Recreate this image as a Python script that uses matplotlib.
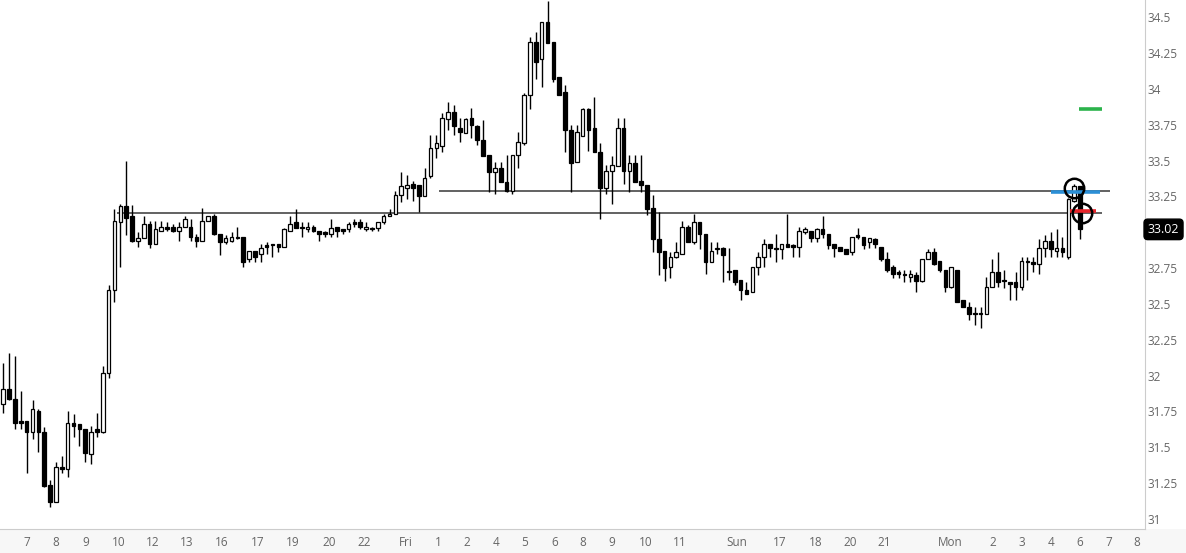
import matplotlib.pyplot as plt
from matplotlib.patches import Rectangle

# candle data
opens = [31.80, 31.91, 31.84, 31.68, 31.68, 31.61, 31.75, 31.61, 31.24, 31.12,
         31.36, 31.35, 31.67, 31.66, 31.63, 31.45, 31.63, 31.61, 32.02, 32.60,
         33.07, 33.18, 33.11, 32.94, 32.96, 33.06, 32.92, 33.01, 33.04, 33.04,
         33.01, 33.04, 33.04, 32.97, 32.94, 33.08, 33.11, 32.99, 32.93, 32.94,
         32.97, 32.97, 32.81, 32.87, 32.85, 32.91, 32.92, 32.92, 32.90, 33.01,
         33.07, 33.04, 33.02, 33.04, 33.01, 33.00, 32.99, 33.04, 33.02, 33.02,
         33.07, 33.07, 33.02, 33.03, 33.03, 33.07, 33.11, 33.13, 33.26, 33.31,
         33.34, 33.33, 33.25, 33.39, 33.59, 33.60, 33.79, 33.84, 33.73, 33.69,
         33.80, 33.74, 33.64, 33.54, 33.42, 33.45, 33.35, 33.29, 33.54, 33.62,
         33.96, 34.33, 34.21, 34.47, 34.33, 34.08, 33.98, 33.71, 33.49, 33.67,
         33.86, 33.73, 33.56, 33.31, 33.43, 33.46, 33.73, 33.43, 33.48, 33.36,
         33.33, 33.17, 32.95, 32.87, 32.76, 32.83, 32.85, 33.04, 32.93, 33.07,
         32.99, 32.79, 32.88, 32.89, 32.73, 32.74, 32.67, 32.60, 32.58, 32.76,
         32.83, 32.92, 32.89, 32.88, 32.92, 32.91, 32.90, 33.00, 33.01, 32.96,
         33.02, 32.99, 32.92, 32.90, 32.88, 32.86, 32.98, 32.97, 32.93, 32.95,
         32.90, 32.81, 32.76, 32.72, 32.71, 32.69, 32.70, 32.66, 32.81, 32.86,
         32.80, 32.74, 32.62, 32.74, 32.53, 32.48, 32.44, 32.44, 32.43, 32.62,
         32.72, 32.67, 32.65, 32.65, 32.62, 32.80, 32.79, 32.78, 32.89, 32.94,
         32.87, 32.89, 32.83, 33.22, 33.32]
highs = [32.09, 32.16, 32.14, 31.89, 31.68, 31.83, 31.77, 31.64, 31.27, 31.40,
         31.44, 31.75, 31.73, 31.66, 31.63, 31.65, 31.74, 32.07, 32.63, 33.16,
         33.20, 33.50, 33.19, 33.00, 33.11, 33.08, 33.08, 33.08, 33.07, 33.06,
         33.07, 33.11, 33.09, 32.99, 33.17, 33.11, 33.13, 32.99, 32.98, 33.00,
         33.04, 32.97, 32.87, 32.87, 32.92, 32.93, 32.92, 32.92, 33.03, 33.11,
         33.16, 33.07, 33.07, 33.05, 33.01, 33.01, 33.09, 33.04, 33.02, 33.07,
         33.09, 33.09, 33.07, 33.04, 33.07, 33.13, 33.16, 33.29, 33.42, 33.40,
         33.36, 33.33, 33.45, 33.68, 33.68, 33.83, 33.91, 33.89, 33.80, 33.80,
         33.87, 33.75, 33.78, 33.54, 33.49, 33.49, 33.54, 33.54, 33.70, 33.97,
         34.36, 34.40, 34.47, 34.61, 34.33, 34.08, 34.03, 33.75, 33.75, 33.87,
         33.87, 33.94, 33.62, 33.47, 33.53, 33.80, 33.80, 33.54, 33.54, 33.54,
         33.33, 33.26, 33.14, 32.87, 32.86, 32.93, 33.08, 33.05, 33.13, 33.07,
         32.99, 32.93, 32.93, 32.90, 32.89, 32.74, 32.67, 32.65, 32.76, 32.86,
         32.95, 32.92, 32.99, 32.92, 33.13, 32.92, 33.04, 33.04, 33.01, 33.03,
         33.11, 32.99, 32.92, 32.90, 32.88, 32.97, 33.03, 32.97, 32.96, 32.96,
         32.90, 32.86, 32.77, 32.74, 32.74, 32.74, 32.72, 32.81, 32.88, 32.89,
         32.80, 32.74, 32.76, 32.74, 32.53, 32.51, 32.48, 32.48, 32.69, 32.81,
         32.86, 32.74, 32.65, 32.72, 32.83, 32.83, 32.83, 32.95, 32.98, 33.00,
         33.02, 32.97, 33.24, 33.34, 33.32]
lows = [31.74, 31.83, 31.63, 31.63, 31.32, 31.56, 31.47, 31.22, 31.08, 31.12,
        31.32, 31.29, 31.57, 31.51, 31.40, 31.38, 31.57, 31.60, 31.98, 32.51,
        32.76, 32.98, 32.93, 32.90, 32.96, 32.89, 32.92, 33.01, 33.01, 33.00,
        32.94, 33.04, 32.94, 32.90, 32.94, 33.08, 32.98, 32.84, 32.92, 32.93,
        32.95, 32.76, 32.79, 32.79, 32.79, 32.85, 32.83, 32.86, 32.90, 33.01,
        33.03, 32.97, 33.00, 33.00, 32.94, 32.97, 32.97, 32.97, 32.99, 33.00,
        33.04, 33.02, 33.01, 33.01, 33.01, 33.06, 33.11, 33.13, 33.21, 33.23,
        33.22, 33.14, 33.25, 33.38, 33.52, 33.56, 33.71, 33.68, 33.63, 33.69,
        33.66, 33.61, 33.53, 33.28, 33.27, 33.35, 33.28, 33.27, 33.45, 33.61,
        33.86, 34.07, 34.01, 34.32, 34.05, 33.96, 33.56, 33.28, 33.49, 33.67,
        33.57, 33.56, 33.09, 33.27, 33.20, 33.46, 33.34, 33.28, 33.35, 33.28,
        33.12, 32.86, 32.70, 32.66, 32.68, 32.82, 32.85, 32.93, 32.92, 32.88,
        32.71, 32.79, 32.85, 32.65, 32.67, 32.63, 32.53, 32.57, 32.58, 32.70,
        32.76, 32.83, 32.79, 32.81, 32.90, 32.83, 32.83, 32.99, 32.93, 32.93,
        32.96, 32.88, 32.83, 32.87, 32.85, 32.84, 32.95, 32.88, 32.89, 32.89,
        32.80, 32.72, 32.68, 32.68, 32.65, 32.65, 32.58, 32.65, 32.81, 32.77,
        32.72, 32.58, 32.61, 32.51, 32.48, 32.39, 32.35, 32.33, 32.43, 32.62,
        32.62, 32.61, 32.53, 32.53, 32.60, 32.67, 32.72, 32.71, 32.83, 32.83,
        32.83, 32.83, 32.81, 33.21, 32.95]
closes = [31.91, 31.84, 31.67, 31.67, 31.61, 31.77, 31.61, 31.23, 31.12, 31.36,
          31.35, 31.67, 31.65, 31.63, 31.46, 31.61, 31.61, 32.02, 32.60, 33.08,
          33.18, 33.10, 32.94, 32.96, 33.06, 32.92, 33.02, 33.04, 33.02, 33.01,
          33.04, 33.09, 32.97, 32.94, 33.08, 33.11, 32.99, 32.93, 32.96, 32.97,
          32.96, 32.79, 32.87, 32.83, 32.89, 32.90, 32.91, 32.90, 33.02, 33.06,
          33.03, 33.03, 33.04, 33.01, 32.99, 32.99, 33.03, 33.01, 33.01, 33.06,
          33.06, 33.04, 33.04, 33.02, 33.07, 33.11, 33.13, 33.26, 33.32, 33.33,
          33.31, 33.25, 33.38, 33.59, 33.62, 33.80, 33.84, 33.74, 33.70, 33.79,
          33.75, 33.64, 33.53, 33.42, 33.45, 33.35, 33.29, 33.54, 33.63, 33.96,
          34.33, 34.19, 34.47, 34.32, 34.07, 33.96, 33.71, 33.48, 33.70, 33.86,
          33.71, 33.56, 33.31, 33.43, 33.47, 33.73, 33.43, 33.48, 33.35, 33.33,
          33.16, 32.95, 32.86, 32.75, 32.83, 32.86, 33.04, 32.93, 33.07, 32.99,
          32.79, 32.87, 32.89, 32.84, 32.72, 32.65, 32.60, 32.57, 32.76, 32.83,
          32.92, 32.89, 32.88, 32.92, 32.90, 32.90, 33.01, 33.02, 32.96, 33.02,
          32.99, 32.91, 32.89, 32.87, 32.85, 32.97, 32.97, 32.91, 32.96, 32.92,
          32.81, 32.74, 32.71, 32.71, 32.70, 32.71, 32.66, 32.81, 32.86, 32.78,
          32.74, 32.62, 32.76, 32.51, 32.48, 32.43, 32.43, 32.43, 32.62, 32.72,
          32.65, 32.66, 32.64, 32.62, 32.80, 32.79, 32.78, 32.89, 32.94, 32.88,
          32.89, 32.86, 33.23, 33.32, 33.02]

# time axis labels (position in candle units)
tick_pos = [4.1, 9.0, 14.1, 19.7, 25.6, 31.4, 37.4, 43.5, 49.5, 55.7, 61.6,
            68.8, 74.3, 79.2, 84.2, 89.1, 94.3, 99.1, 104.0, 109.7, 115.6,
            125.4, 132.6, 138.9, 144.7, 150.5, 161.9, 169.1, 174.1, 179.0,
            184.0, 188.9, 193.7]
tick_lab = ['7', '8', '9', '10', '12', '13', '16', '17', '19', '20', '22',
            'Fri', '1', '2', '4', '5', '6', '8', '9', '10', '11',
            'Sun', '17', '18', '20', '21', 'Mon', '2', '3', '4', '6', '7', '8']

# drawn levels: (price, start, end)
support_lines = [(33.135, 19.4, 187.7), (33.286, 74.5, 189.2)]
blue_level = (33.279, 179.0, 187.4)
red_level = (33.151, 182.3, 186.7)
green_level = (33.858, 183.8, 187.7)
circles = [(183.0, 33.307), (184.3, 33.133)]
last_price = 33.02

plt.rcParams['font.family'] = ['Open Sans', 'DejaVu Sans']

fig = plt.figure(figsize=(11.86, 5.53), dpi=100)
# light grey strip under the time axis
fig.patches.append(Rectangle((0, 0), 1, 24 / 553, transform=fig.transFigure,
                             facecolor='#f7f7f7', edgecolor='none', zorder=-10))
ax = fig.add_axes([0, 24 / 553, 1145 / 1186, 529 / 553])
ax.patch.set_alpha(0)

n = len(opens)
x = list(range(n))

# wicks
ax.vlines(x, lows, highs, color='black', linewidth=1.0, zorder=2)

# bodies
bottoms = [min(o, c) for o, c in zip(opens, closes)]
heights = [max(abs(c - o), 0.007) for o, c in zip(opens, closes)]
colors = ['white' if c >= o else 'black' for o, c in zip(opens, closes)]
ax.bar(x, heights, bottom=bottoms, width=0.62, color=colors,
       edgecolor='black', linewidth=0.9, zorder=3)

for price, x0, x1 in support_lines:
    ax.hlines(price, x0, x1, color='#555555', linewidth=1.3, zorder=1)

ax.hlines(blue_level[0], blue_level[1], blue_level[2], color='#2b8fd6',
          linewidth=2.6, zorder=4)
ax.hlines(red_level[0], red_level[1], red_level[2], color='#e8242a',
          linewidth=2.6, zorder=4)
ax.hlines(green_level[0], green_level[1], green_level[2], color='#2bb34b',
          linewidth=2.6, zorder=4)

for cx, cy in circles:
    ax.plot(cx, cy, 'o', markersize=14, markerfacecolor='none',
            markeredgecolor='black', markeredgewidth=1.8, zorder=5)

ax.set_xlim(-0.56, 195.1)
ax.set_ylim(30.93, 34.62)

ax.set_xticks(tick_pos)
ax.set_xticklabels(tick_lab)
yt = [31 + 0.25 * k for k in range(15)]
ax.set_yticks(yt)
ax.set_yticklabels(['%g' % v for v in yt])
ax.yaxis.tick_right()
ax.tick_params(axis='both', length=0, labelsize=8.5, labelcolor='#666666')
ax.tick_params(axis='x', pad=5)
ax.tick_params(axis='y', pad=2)

for side in ['top', 'left']:
    ax.spines[side].set_visible(False)
ax.spines['right'].set_color('#cccccc')
ax.spines['bottom'].set_color('#cccccc')

ax.annotate('%.2f' % last_price, xy=(1.0, last_price),
            xycoords=('axes fraction', 'data'), xytext=(2, 0),
            textcoords='offset points', va='center', ha='left',
            color='white', fontsize=9,
            bbox=dict(boxstyle='round,pad=0.3', fc='black', ec='black'),
            zorder=10, annotation_clip=False)

fig.savefig('out.png', dpi=100)
